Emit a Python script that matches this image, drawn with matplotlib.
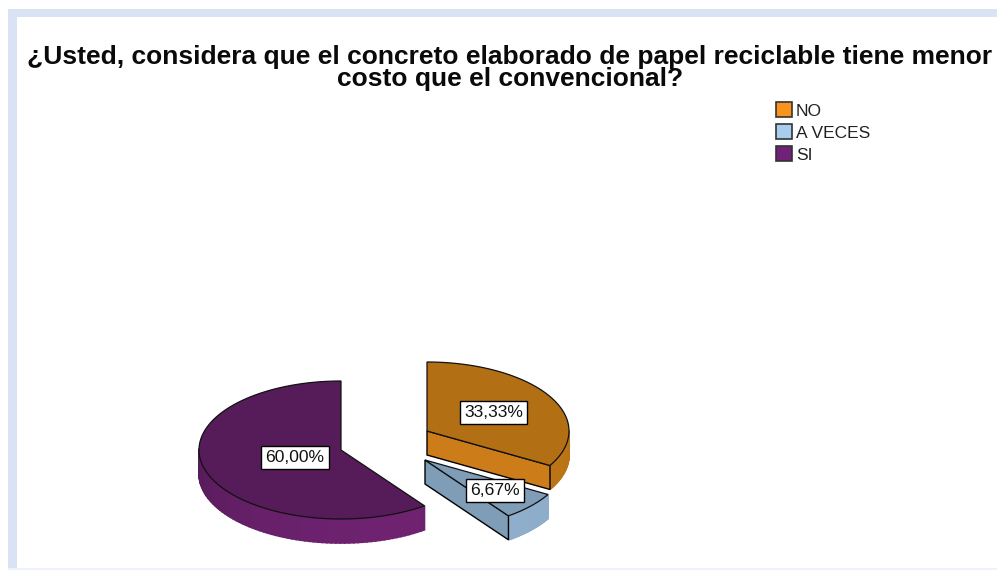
import matplotlib
matplotlib.use('Agg')
import matplotlib.pyplot as plt
import numpy as np
from matplotlib.patches import Polygon, Rectangle, Patch
from matplotlib.colors import to_rgb

plt.rcParams['font.family'] = ['Liberation Sans', 'DejaVu Sans']

title = '¿Usted, considera que el concreto elaborado de papel reciclable tiene menor\ncosto que el convencional?'
categories = ['NO', 'A VECES', 'SI']
values = [33.33, 6.67, 60.00]

legend_colors = ['#F7931E', '#A9CDEE', '#72207A']
top_colors = ['#B26F14', '#7F9DB7', '#561C59']
cut_colors = ['#CC7C18', '#7F9DB7', None]
side_dark = ['#A86A14', '#86A4BE', '#4A184C']
side_light = ['#BF7716', '#8FAECB', '#6E2270']

# centre of each exploded slice, in pixels
centers = [(427, 431), (425, 460), (341, 450)]
label_radius = [0.54, 0.66, 0.34]
rx, ry = 142, 69
depth = 24


def ell(cx, cy, deg):
    t = np.radians(deg)
    return cx + rx * np.cos(t), cy - ry * np.sin(t)


def draw_slice(ax, i, a0, a1):
    # a0 > a1: the slice runs clockwise from a0 to a1
    cx, cy = centers[i]
    arc = np.linspace(a0, a1, 120)
    x, y = ell(cx, cy, arc)

    # outer wall, only the part that faces the viewer
    front = arc[np.sin(np.radians(arc)) <= 0.02]
    for k in range(len(front) - 1):
        xa, ya = ell(cx, cy, front[k:k + 2])
        mid = np.mean(front[k:k + 2])
        f = (1 - np.cos(np.radians(mid + 70))) / 2
        col = np.array(to_rgb(side_dark[i])) * f + np.array(to_rgb(side_light[i])) * (1 - f)
        quad = [(xa[0], ya[0]), (xa[1], ya[1]), (xa[1], ya[1] + depth), (xa[0], ya[0] + depth)]
        ax.add_patch(Polygon(quad, closed=True, fc=col, ec=col, lw=1.2, zorder=2))

    # the straight cut at the clockwise end, seen from the front
    if cut_colors[i] is not None:
        ex, ey = ell(cx, cy, a1)
        quad = [(cx, cy), (ex, ey), (ex, ey + depth), (cx, cy + depth)]
        ax.add_patch(Polygon(quad, closed=True, fc=cut_colors[i], ec='black', lw=1.0, zorder=4))

    # top surface
    pts = np.column_stack([np.r_[cx, x], np.r_[cy, y]])
    ax.add_patch(Polygon(pts, closed=True, fc=top_colors[i], ec='#111111', lw=0.9, zorder=5))


fig = plt.figure(figsize=(9.97, 5.70), dpi=100)
ax = fig.add_axes([0, 0, 1, 1])
ax.set_xlim(0, 997)
ax.set_ylim(570, 0)
ax.axis('off')

# pale frame along the top, left and bottom
frame = '#DAE3F3'
ax.add_patch(Rectangle((8, 9), 989, 8, fc=frame, ec='none'))
ax.add_patch(Rectangle((8, 9), 9, 561, fc=frame, ec='none'))
ax.add_patch(Rectangle((8, 568), 989, 2, fc='#EDF1F9', ec='none'))

ax.text(510, 68, title, ha='center', va='center', fontsize=19.0, fontweight='bold',
        color='#0A0A0A', linespacing=0.88, zorder=8)

# slices go clockwise from twelve o'clock
start = 90.0
mids = []
spans = []
for v in values:
    end = start - v * 3.6
    mids.append((start + end) / 2)
    spans.append((start, end))
    start = end

# orange goes last so that it sits over the blue slice
for i in (2, 1, 0):
    draw_slice(ax, i, *spans[i])

for i, v in enumerate(values):
    cx, cy = centers[i]
    t = np.radians(mids[i])
    lx = cx + label_radius[i] * rx * np.cos(t)
    ly = cy - label_radius[i] * ry * np.sin(t)
    ax.text(lx, ly, f'{v:.2f}%'.replace('.', ','), ha='center', va='center', fontsize=12.6,
            color='#111111', zorder=9,
            bbox=dict(boxstyle='square,pad=0.24', fc='white', ec='black', lw=1.0))

handles = [Patch(fc=c, ec='#333333', lw=1.2, label=n) for c, n in zip(legend_colors, categories)]
ax.legend(handles=handles, loc='upper left', bbox_to_anchor=(773 / 997, 1 - 99 / 570), frameon=False,
          fontsize=12.5, handlelength=0.92, handleheight=0.95, handletextpad=0.2,
          labelspacing=0.32, borderpad=0.2, borderaxespad=0, labelcolor='#222222')

fig.savefig('out.png', dpi=100)
